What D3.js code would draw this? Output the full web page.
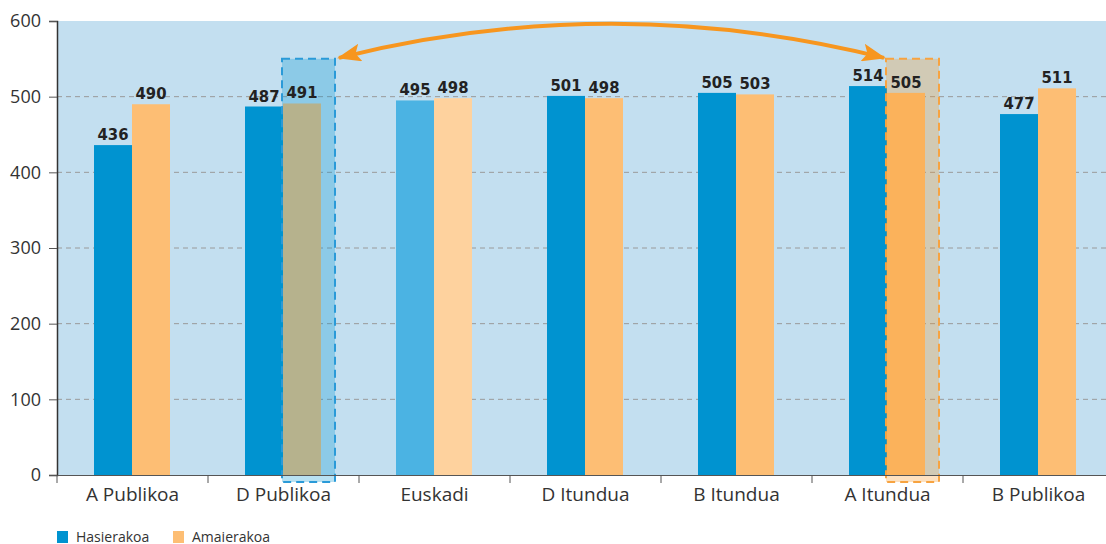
<!DOCTYPE html>
<html>
<head>
<meta charset="utf-8">
<script src="https://cdn.jsdelivr.net/npm/d3@7"></script>
<style>
  body { margin: 0; background: #fff; }
  svg { display: block; }
</style>
</head>
<body>
<script>
var categories = ['A Publikoa', 'D Publikoa', 'Euskadi', 'D Itundua', 'B Itundua', 'A Itundua', 'B Publikoa'];
var series = ['Hasierakoa', 'Amaierakoa'];
var hasierakoa = [436, 487, 495, 501, 505, 514, 477];
var amaierakoa = [490, 491, 498, 498, 503, 505, 511];
var yTicks = [0, 100, 200, 300, 400, 500, 600];
var highlighted = ['D Publikoa', 'A Itundua'];

var width = 1106, height = 544;
var plotLeft = 57, plotTop = 21, plotBottom = 475;

var svg = d3.select('body').append('svg').attr('width', width).attr('height', height);

var x0 = d3.scaleBand().domain(categories).range([plotLeft, plotLeft + 151 * 7]).padding(0);
var x1 = d3.scaleBand().domain(series).range([37, 113]);
var y = d3.scaleLinear().domain([0, 600]).range([plotBottom, plotTop]);

var colors = { Hasierakoa: '#0093d0', Amaierakoa: '#fdbe74' };
var lightColors = { Hasierakoa: '#4bb3e3', Amaierakoa: '#fed29e' };

// plot background
svg.append('rect')
   .attr('x', plotLeft).attr('y', plotTop)
   .attr('width', width - plotLeft).attr('height', plotBottom - plotTop)
   .attr('fill', '#c3dff0');

// grid lines
svg.selectAll('.grid')
   .data(yTicks.filter(function (d) { return d > 0 && d < 600; }))
   .enter().append('line')
   .attr('x1', plotLeft).attr('x2', width)
   .attr('y1', function (d) { return y(d); })
   .attr('y2', function (d) { return y(d); })
   .attr('stroke', '#9a9a9a')
   .attr('stroke-width', 1)
   .attr('stroke-dasharray', '5,4');

// bars
var rows = categories.map(function (c, i) {
   return { cat: c, values: [
      { key: 'Hasierakoa', value: hasierakoa[i] },
      { key: 'Amaierakoa', value: amaierakoa[i] }
   ] };
});

var groups = svg.selectAll('.grp')
   .data(rows)
   .enter().append('g')
   .attr('transform', function (d) { return 'translate(' + x0(d.cat) + ',0)'; });

groups.selectAll('rect')
   .data(function (d) { return d.values.map(function (v) { return { cat: d.cat, key: v.key, value: v.value }; }); })
   .enter().append('rect')
   .attr('x', function (d) { return x1(d.key); })
   .attr('width', x1.bandwidth())
   .attr('y', function (d) { return y(d.value); })
   .attr('height', function (d) { return plotBottom - y(d.value); })
   .attr('fill', function (d) { return d.cat === 'Euskadi' ? lightColors[d.key] : colors[d.key]; });

// highlight boxes
var hlStyle = {
   'D Publikoa': { fill: '#0093d0', stroke: '#2a9ad8' },
   'A Itundua': { fill: '#f7941d', stroke: '#f7a340' }
};
svg.selectAll('.hl')
   .data(highlighted)
   .enter().append('rect')
   .attr('x', function (d) { return x0(d) + x1('Amaierakoa') - 1; })
   .attr('width', 53)
   .attr('y', y(550))
   .attr('height', plotBottom + 7 - y(550))
   .attr('fill', function (d) { return hlStyle[d].fill; })
   .attr('fill-opacity', 0.28)
   .attr('stroke', function (d) { return hlStyle[d].stroke; })
   .attr('stroke-width', 2)
   .attr('stroke-dasharray', '8,5');

// value labels (on top of the highlight boxes)
var labels = svg.selectAll('.lblgrp')
   .data(rows)
   .enter().append('g')
   .attr('transform', function (d) { return 'translate(' + x0(d.cat) + ',0)'; });
labels.selectAll('text')
   .data(function (d) { return d.values; })
   .enter().append('text')
   .attr('x', function (d) { return x1(d.key) + x1.bandwidth() / 2; })
   .attr('y', function (d) { return y(d.value) - 5; })
   .attr('text-anchor', 'middle')
   .attr('font-family', 'DejaVu Sans Condensed, DejaVu Sans')
   .attr('font-weight', 'bold')
   .attr('font-size', 16.5)
   .attr('fill', '#222')
   .text(function (d) { return d.value; });

// axes
var yAxis = svg.append('g')
   .attr('transform', 'translate(' + plotLeft + ',0)')
   .call(d3.axisLeft(y).tickValues(yTicks).tickSize(8).tickPadding(8));
yAxis.select('.domain').attr('stroke', '#333').attr('stroke-width', 1.5);
yAxis.selectAll('.tick line').attr('stroke', '#555');
yAxis.selectAll('.tick text')
   .attr('font-family', 'Open Sans')
   .attr('font-size', 18)
   .attr('fill', '#333');

var xAxis = svg.append('g')
   .attr('transform', 'translate(0,' + plotBottom + ')')
   .call(d3.axisBottom(x0).tickSize(0).tickPadding(13));
xAxis.select('.domain').attr('stroke', '#555').attr('stroke-width', 1.2);
xAxis.selectAll('.tick text')
   .attr('font-family', 'Open Sans')
   .attr('font-size', 19)
   .attr('fill', '#333');

// category separators
svg.selectAll('.sep')
   .data(categories)
   .enter().append('line')
   .attr('x1', function (d) { return x0(d); })
   .attr('x2', function (d) { return x0(d); })
   .attr('y1', plotBottom).attr('y2', plotBottom + 8)
   .attr('stroke', '#555');

// curved double arrow between highlighted boxes
var defs = svg.append('defs');
defs.append('marker')
   .attr('id', 'head')
   .attr('viewBox', '0 0 24 18')
   .attr('refX', 22).attr('refY', 9)
   .attr('markerWidth', 24).attr('markerHeight', 18)
   .attr('markerUnits', 'userSpaceOnUse')
   .attr('orient', 'auto-start-reverse')
   .append('path')
   .attr('d', 'M0,0 L24,9 L0,18 L5,9 Z')
   .attr('fill', '#f7961f');

var ax1 = x0('D Publikoa') + x1('Amaierakoa') + 56;
var ax2 = x0('A Itundua') + x1('Amaierakoa') - 3;
var ay = y(550) - 1;
svg.append('path')
   .attr('d', 'M' + ax1 + ',' + ay + ' Q' + ((ax1 + ax2) / 2) + ',' + (ay - 68) + ' ' + ax2 + ',' + ay)
   .attr('fill', 'none')
   .attr('stroke', '#f7961f')
   .attr('stroke-width', 4)
   .attr('marker-start', 'url(#head)')
   .attr('marker-end', 'url(#head)');

// legend
var legend = svg.selectAll('.leg')
   .data(series)
   .enter().append('g')
   .attr('transform', function (d, i) { return 'translate(' + (57 + i * 116) + ',531)'; });
legend.append('rect')
   .attr('width', 11).attr('height', 12)
   .attr('fill', function (d) { return colors[d]; });
legend.append('text')
   .attr('x', 19).attr('y', 10.5)
   .attr('font-family', 'Open Sans')
   .attr('font-size', 14)
   .attr('fill', '#333')
   .text(function (d) { return d; });
</script>
</body>
</html>
